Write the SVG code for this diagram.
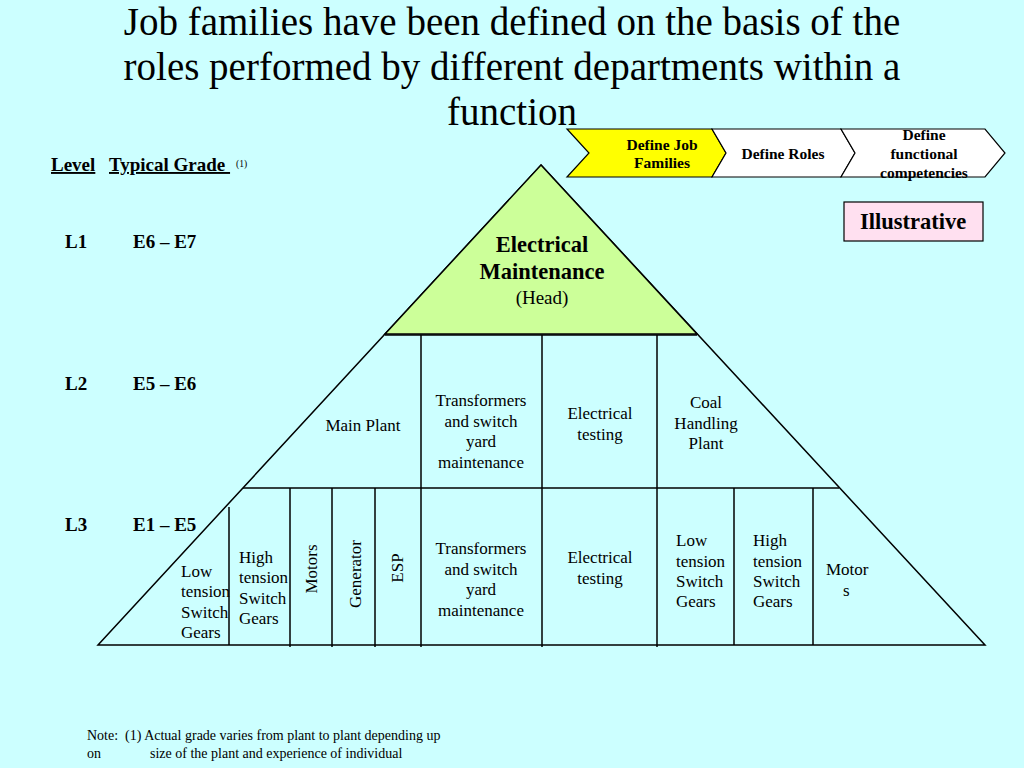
<svg xmlns="http://www.w3.org/2000/svg" width="1024" height="768" viewBox="0 0 1024 768">
<style>
text{font-family:"Liberation Serif","Times New Roman",serif;fill:#000}
.t{font-size:39px;text-anchor:middle}
.c{font-size:17px;text-anchor:middle}
.l{font-size:17px}
.g{font-size:19px;font-weight:bold}
.ch{font-size:15.5px;font-weight:bold;text-anchor:middle}
.ln{stroke:#000;stroke-width:1.5;fill:none}
</style>
<rect width="1024" height="768" fill="#CCFFFF"/>
<g id="title">
<text class="t" x="512" y="35">Job families have been defined on the basis of the</text>
<text class="t" x="512" y="80">roles performed by different departments within a</text>
<text class="t" x="512" y="125">function</text>
</g>
<g id="chevrons">
<g id="chev1"><polygon points="567,129 712,129 726,153 712,177 567,177 589,153" fill="#FFFF00" stroke="#000" stroke-width="1.2"/>
<text class="ch" x="662" y="150">Define Job</text><text class="ch" x="662" y="168">Families</text></g>
<g id="chev2"><polygon points="712,129 841,129 855,153 841,177 712,177 726,153" fill="#FFFFFF" stroke="#000" stroke-width="1.2"/>
<text class="ch" x="783" y="159">Define Roles</text></g>
<g id="chev3"><polygon points="841,129 985,129 1005,153 985,177 841,177 855,153" fill="#FFFFFF" stroke="#000" stroke-width="1.2"/>
<text class="ch" x="924" y="140">Define</text><text class="ch" x="924" y="159">functional</text><text class="ch" x="924" y="178">competencies</text></g>
</g>
<g id="illustrative">
<rect x="844" y="202" width="139" height="39" fill="#FFE0F0" stroke="#000" stroke-width="1.2"/>
<text x="913" y="229" font-size="22.5" font-weight="bold" text-anchor="middle">Illustrative</text>
</g>
<g id="levels">
<text x="51" y="171" font-size="19" font-weight="bold" text-decoration="underline">Level</text>
<text x="109" y="171" font-size="19" font-weight="bold" text-decoration="underline" xml:space="preserve">Typical Grade </text>
<text x="236" y="167" font-size="9.5">(1)</text>
<text class="g" x="65" y="248">L1</text><text class="g" x="133" y="248">E6 – E7</text>
<text class="g" x="65" y="390">L2</text><text class="g" x="133" y="390">E5 – E6</text>
<text class="g" x="65" y="531">L3</text><text class="g" x="133" y="531">E1 – E5</text>
</g>
<g id="connectors">
<polygon points="541,165 985,645 98,645" fill="none" stroke="#000" stroke-width="1.5"/>
<polygon id="head-fill" points="541,165 697,334 385,334" fill="#CCFF99" stroke="#000" stroke-width="1.5"/>
<line class="ln" x1="385" y1="335" x2="697" y2="335"/>
<line class="ln" x1="243" y1="488" x2="839" y2="488"/>
<line class="ln" x1="421" y1="335" x2="421" y2="647"/>
<line class="ln" x1="542" y1="335" x2="542" y2="647"/>
<line class="ln" x1="657" y1="335" x2="657" y2="647"/>
<line class="ln" x1="229" y1="507" x2="229" y2="645"/>
<line class="ln" x1="290" y1="488" x2="290" y2="647"/>
<line class="ln" x1="332" y1="488" x2="332" y2="647"/>
<line class="ln" x1="375" y1="488" x2="375" y2="647"/>
<line class="ln" x1="734" y1="488" x2="734" y2="645"/>
<line class="ln" x1="813" y1="488" x2="813" y2="645"/>
</g>
<g id="head">
<text x="542" y="252" font-size="22.5" font-weight="bold" text-anchor="middle">Electrical</text>
<text x="542" y="279" font-size="22.5" font-weight="bold" text-anchor="middle">Maintenance</text>
<text x="542" y="304" font-size="19" text-anchor="middle">(Head)</text>
</g>
<g id="main-plant"><text class="c" x="363" y="431">Main Plant</text></g>
<g id="transformers-l2"><text class="c" x="481" y="406">Transformers</text><text class="c" x="481" y="427">and switch</text><text class="c" x="481" y="447">yard</text><text class="c" x="481" y="468">maintenance</text></g>
<g id="testing-l2"><text class="c" x="600" y="419">Electrical</text><text class="c" x="600" y="440">testing</text></g>
<g id="coal"><text class="c" x="706" y="408">Coal</text><text class="c" x="706" y="429">Handling</text><text class="c" x="706" y="449">Plant</text></g>
<g id="lt1"><text class="l" x="181" y="577">Low</text><text class="l" x="181" y="597">tension</text><text class="l" x="181" y="618">Switch</text><text class="l" x="181" y="638">Gears</text></g>
<g id="ht1"><text class="l" x="239" y="563">High</text><text class="l" x="239" y="583">tension</text><text class="l" x="239" y="604">Switch</text><text class="l" x="239" y="624">Gears</text></g>
<g id="motors1"><text class="c" transform="translate(317,569) rotate(-90)">Motors</text></g>
<g id="generator"><text class="c" transform="translate(361,574) rotate(-90)">Generator</text></g>
<g id="esp"><text class="c" transform="translate(403,568) rotate(-90)">ESP</text></g>
<g id="transformers-l3"><text class="c" x="481" y="554">Transformers</text><text class="c" x="481" y="575">and switch</text><text class="c" x="481" y="595">yard</text><text class="c" x="481" y="616">maintenance</text></g>
<g id="testing-l3"><text class="c" x="600" y="563">Electrical</text><text class="c" x="600" y="584">testing</text></g>
<g id="lt2"><text class="l" x="676" y="546">Low</text><text class="l" x="676" y="567">tension</text><text class="l" x="676" y="587">Switch</text><text class="l" x="676" y="607">Gears</text></g>
<g id="ht2"><text class="l" x="753" y="546">High</text><text class="l" x="753" y="567">tension</text><text class="l" x="753" y="587">Switch</text><text class="l" x="753" y="607">Gears</text></g>
<g id="motors2"><text class="l" x="826" y="575">Motor</text><text class="l" x="843" y="596">s</text></g>
<g id="note">
<text x="87" y="740" font-size="14" xml:space="preserve">Note:  (1) Actual grade varies from plant to plant depending up</text>
<text x="87" y="758" font-size="14" xml:space="preserve">on              size of the plant and experience of individual</text>
</g>
</svg>
